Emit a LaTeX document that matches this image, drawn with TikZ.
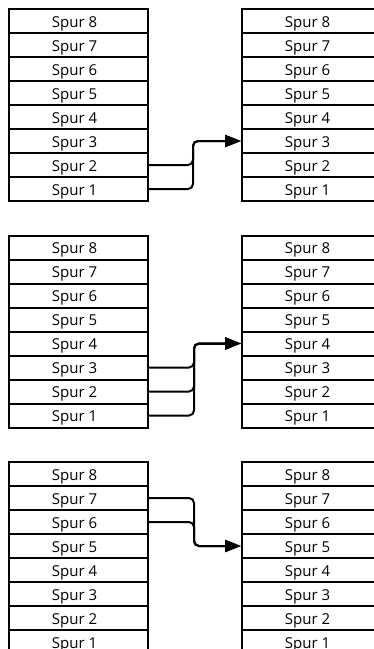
\documentclass[tikz,border=0pt]{standalone}
\usepackage{fontspec}
\setmainfont{Open Sans}
\usetikzlibrary{arrows.meta}

\tikzset{
  spur/.style={draw, line width=2pt, minimum width=139pt, minimum height=24pt,
    inner sep=0pt, text height=12.5pt, text depth=0pt,
    font=\fontsize{15}{15}\selectfont},
  verbindung/.style={line width=2pt, rounded corners=5pt},
  pfeil/.style={verbindung, -{Triangle[length=16pt,width=12pt]}},
}

\begin{document}
\begin{tikzpicture}[x=1pt, y=-1pt]
  \useasboundingbox (0,0) rectangle (373,649);

  % trois paires de piles, 8 pistes chacune
  \foreach \g/\top in {a/9, b/235.5, c/462} {
    \foreach \r in {1,...,8} {
      \node[spur] (\g l\r) at (78.5, \top + 24*8 - 24*\r + 12) {\hspace{-8pt}Spur \r};
      \node[spur] (\g r\r) at (311.5, \top + 24*8 - 24*\r + 12) {\hspace{-8pt}Spur \r};
    }
  }

  % Spur 1+2 -> Spur 3
  \foreach \s in {1,2}
    \draw[pfeil] (al\s.east) -- ++(44,0) |- (ar3.west);

  % Spur 1..3 -> Spur 4
  \foreach \s in {1,2,3}
    \draw[pfeil] (bl\s.east) -- ++(45,0) |- (br4.west);

  % Spur 6+7 -> Spur 5
  \foreach \s in {6,7}
    \draw[pfeil] (cl\s.east) -- ++(45,0) |- (cr5.west);
\end{tikzpicture}
\end{document}
